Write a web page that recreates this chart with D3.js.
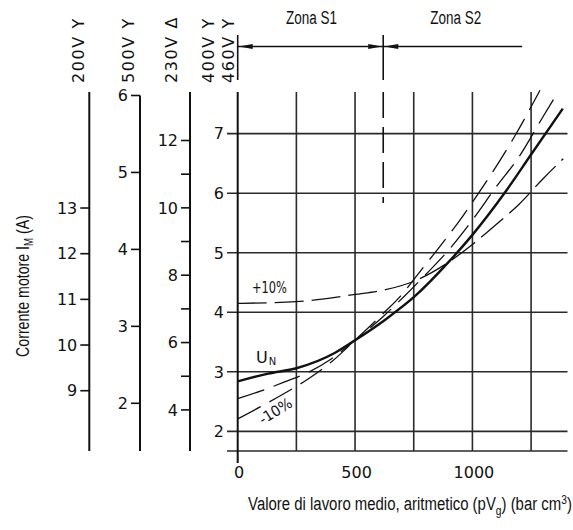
<!DOCTYPE html>
<html>
<head>
<meta charset="utf-8">
<script src="https://cdn.jsdelivr.net/npm/d3@7"></script>
<style>
  body { margin: 0; background: #fff; }
  svg { display: block; }
</style>
</head>
<body>
<script>
// Load value (bar cm3) and motor current (A, 400 V scale) for each supply voltage curve
const unX      = [0, 130, 250, 415, 500, 630, 755, 900, 1000, 1140, 1250, 1385];
const unI      = [2.84, 2.97, 3.06, 3.32, 3.53, 3.88, 4.27, 4.85, 5.30, 6.02, 6.65, 7.42];
const plus10X  = [0, 250, 500, 630, 750, 890, 1000, 1100, 1200, 1300, 1387];
const plus10I  = [4.15, 4.18, 4.30, 4.38, 4.52, 4.82, 5.14, 5.47, 5.82, 6.24, 6.58];
const minus5X  = [0, 100, 200, 300, 400, 500, 620, 710, 800, 900, 1000, 1100, 1200, 1300, 1360];
const minus5I  = [2.55, 2.68, 2.83, 2.99, 3.22, 3.53, 3.93, 4.27, 4.63, 5.05, 5.55, 6.10, 6.62, 7.28, 7.67];
const minus10X = [0, 100, 200, 300, 400, 500, 620, 700, 750, 870, 960, 1000, 1075, 1103, 1182, 1288];
const minus10I = [2.21, 2.42, 2.64, 2.88, 3.17, 3.53, 3.98, 4.30, 4.55, 5.15, 5.62, 5.85, 6.29, 6.46, 6.97, 7.73];

// Axis ticks
const xTicks      = [0, 500, 1000];
const xGrid       = [0, 250, 500, 750, 1000, 1250];
const mainTicks   = [2, 3, 4, 5, 6, 7];
const v200Ticks   = [9, 10, 11, 12, 13];
const v500Ticks   = [2, 3, 4, 5, 6];
const v230Ticks   = [4, 5, 6, 7, 8, 9, 10, 11, 12];
const v230Labels  = [4, 6, 8, 10, 12];
const voltLabels  = ["200V Y", "500V Y", "230V Δ", "400V Y", "460V Y"];

// Zone boundary (bar cm3) and zone names
const zoneStart = 0, zoneSplit = 620, zoneEnd = 1212;
const zoneNames = ["Zona S1", "Zona S2"];

const W = 573, H = 530;
const svg = d3.select("body").append("svg").attr("width", W).attr("height", H);

const numFont = "'DejaVu Sans', sans-serif";
const titleFont = "'Liberation Sans Narrow', 'Liberation Sans', Roboto, sans-serif";
const ink = "#111";

// Scales
const x = d3.scaleLinear().domain([0, 1400]).range([237.7, 566.3]);
const y = d3.scaleLinear().domain([1.67, 7.7]).range([451, 92]);
const y200 = d3.scaleLinear().domain([7.68, 15.54]).range([451, 92]);
const y500 = d3.scaleLinear().domain([1.38, 6.0]).range([451, 95.5]);
const y230 = d3.scaleLinear().domain([2.78, 13.44]).range([451, 92]);

// Text squeezed or stretched along its own direction to a given width
function fit(sel, width) {
  const n = sel.node();
  const w = n.getComputedTextLength();
  const t = sel.attr("transform") || "";
  sel.attr("transform", t + ` scale(${width / w},1)`);
}

// ---- Grid ----
const grid = svg.append("g").attr("stroke", "#2a2a2a").attr("stroke-width", 1.6);
grid.selectAll("line.h").data(mainTicks.concat([1.67])).join("line")
  .attr("x1", 227).attr("x2", 567.5)
  .attr("y1", d => y(d)).attr("y2", d => y(d));
grid.selectAll("line.v").data(xGrid.slice(1)).join("line")
  .attr("x1", d => x(d)).attr("x2", d => x(d))
  .attr("y1", y(7.7)).attr("y2", y(1.67));

// Main vertical axis
svg.append("line").attr("x1", x(0)).attr("x2", x(0))
  .attr("y1", y(7.7)).attr("y2", 463)
  .attr("stroke", ink).attr("stroke-width", 2);

// Main axis labels
svg.append("g").selectAll("text").data(mainTicks).join("text")
  .attr("x", 224).attr("y", d => y(d)).attr("dy", "0.36em")
  .attr("text-anchor", "end").attr("font-family", numFont).attr("font-size", 16)
  .attr("fill", ink).text(d => d);

// X tick labels
svg.append("g").selectAll("text").data(xTicks).join("text")
  .attr("x", d => x(d) + 1.5).attr("y", 478)
  .attr("text-anchor", "middle").attr("font-family", numFont).attr("font-size", 16)
  .attr("fill", ink).text(d => d);

// ---- Alternative current scales for other supply voltages ----
function sideAxis(scale, xPos, ticks, labels) {
  const g = svg.append("g");
  const [lo, hi] = scale.domain();
  g.append("line").attr("x1", xPos).attr("x2", xPos)
    .attr("y1", scale(hi)).attr("y2", scale(lo))
    .attr("stroke", ink).attr("stroke-width", 2);
  g.selectAll("line.t").data(ticks).join("line")
    .attr("x1", xPos - 9).attr("x2", xPos)
    .attr("y1", d => scale(d)).attr("y2", d => scale(d))
    .attr("stroke", ink).attr("stroke-width", 1.6);
  g.selectAll("text").data(labels).join("text")
    .attr("x", xPos - 12).attr("y", d => scale(d)).attr("dy", "0.36em")
    .attr("text-anchor", "end").attr("font-family", numFont).attr("font-size", 16)
    .attr("fill", ink).text(d => d);
}
sideAxis(y200, 89.3, v200Ticks, v200Ticks);
sideAxis(y500, 140, v500Ticks, v500Ticks);
sideAxis(y230, 190, v230Ticks, v230Labels);

// Voltage headers (vertical)
const headerX = [83.5, 133.5, 176.5, 213.5, 233.5];
svg.append("g").selectAll("text").data(voltLabels).join("text")
  .attr("transform", (d, i) => `translate(${headerX[i]},83) rotate(-90)`)
  .attr("font-family", numFont).attr("font-size", 16).attr("fill", ink)
  .attr("letter-spacing", 1.6)
  .text(d => d);

// ---- Zone arrows ----
const zy = 46.5;
const zone = svg.append("g").attr("stroke", ink).attr("stroke-width", 1.6);
zone.append("line").attr("x1", x(zoneStart)).attr("x2", x(zoneEnd)).attr("y1", zy).attr("y2", zy);
zone.append("line").attr("x1", x(zoneStart)).attr("x2", x(zoneStart)).attr("y1", 35).attr("y2", 80);
zone.append("line").attr("x1", x(zoneSplit)).attr("x2", x(zoneSplit)).attr("y1", 35).attr("y2", 80);
zone.append("line").attr("x1", x(zoneSplit)).attr("x2", x(zoneSplit))
  .attr("y1", y(7.7)).attr("y2", 203).attr("stroke-dasharray", "26,9");

function arrowHead(tipX, dir) {
  const len = 14, hw = 2.6;
  svg.append("path")
    .attr("d", `M${tipX},${zy} L${tipX + dir * len},${zy - hw} L${tipX + dir * len},${zy + hw} Z`)
    .attr("fill", ink);
}
arrowHead(x(zoneStart) + 1, 1);
arrowHead(x(zoneSplit) - 1, -1);
arrowHead(x(zoneSplit) + 1, 1);

const zoneMid = [(x(zoneStart) + x(zoneSplit)) / 2 + 1, (x(zoneSplit) + x(zoneEnd)) / 2 + 3];
zoneNames.forEach((t, i) => {
  const s = svg.append("text")
    .attr("transform", `translate(${zoneMid[i]},24)`)
    .attr("text-anchor", "middle").attr("font-family", titleFont).attr("font-size", 19)
    .attr("fill", ink).text(t);
  fit(s, 51);
});

// ---- Curves ----
const line = d3.line().x(d => x(d[0])).y(d => y(d[1])).curve(d3.curveMonotoneX);
const pairs = (xs, ys) => xs.map((v, i) => [v, ys[i]]);

svg.append("path").datum(pairs(plus10X, plus10I)).attr("d", line)
  .attr("fill", "none").attr("stroke", ink).attr("stroke-width", 1.3).attr("stroke-dasharray", "29,8");
svg.append("path").datum(pairs(minus5X, minus5I)).attr("d", line)
  .attr("fill", "none").attr("stroke", ink).attr("stroke-width", 1.3).attr("stroke-dasharray", "28,10");
svg.append("path").datum(pairs(minus10X, minus10I)).attr("d", line)
  .attr("fill", "none").attr("stroke", ink).attr("stroke-width", 1.3).attr("stroke-dasharray", "26,10");
svg.append("path").datum(pairs(unX, unI)).attr("d", line)
  .attr("fill", "none").attr("stroke", ink).attr("stroke-width", 2.4);

// Curve labels
const p10 = svg.append("text").attr("transform", "translate(252,293)")
  .attr("font-family", numFont).attr("font-size", 15).attr("fill", ink).text("+10%");
fit(p10, 35);

const un = svg.append("text").attr("x", 256).attr("y", 363)
  .attr("font-family", numFont).attr("font-size", 16).attr("fill", ink);
un.append("tspan").text("U");
un.append("tspan").attr("font-size", 10).attr("dy", 2).attr("dx", 1).text("N");

const m10 = svg.append("text").attr("transform", "translate(263,425) rotate(-32)")
  .attr("font-family", numFont).attr("font-size", 15).attr("fill", ink).text("-10%");
fit(m10, 36);

// ---- Axis titles ----
const yTitle = svg.append("text").attr("transform", "translate(29,286) rotate(-90)")
  .attr("text-anchor", "middle").attr("font-family", titleFont).attr("font-size", 19).attr("fill", ink);
yTitle.append("tspan").text("Corrente motore I");
yTitle.append("tspan").attr("font-size", 13).attr("dy", 4).text("M");
yTitle.append("tspan").attr("dy", -4).text(" (A)");
fit(yTitle, 142);

const xTitle = svg.append("text").attr("transform", "translate(410,510)")
  .attr("text-anchor", "middle").attr("font-family", titleFont).attr("font-size", 19).attr("fill", ink);
xTitle.append("tspan").text("Valore di lavoro medio, aritmetico (pV");
xTitle.append("tspan").attr("font-size", 13).attr("dy", 5).text("g");
xTitle.append("tspan").attr("dy", -5).text(") (bar cm");
xTitle.append("tspan").attr("font-size", 13).attr("dy", -6).text("3");
xTitle.append("tspan").attr("dy", 6).text(")");
fit(xTitle, 324);
</script>
</body>
</html>
